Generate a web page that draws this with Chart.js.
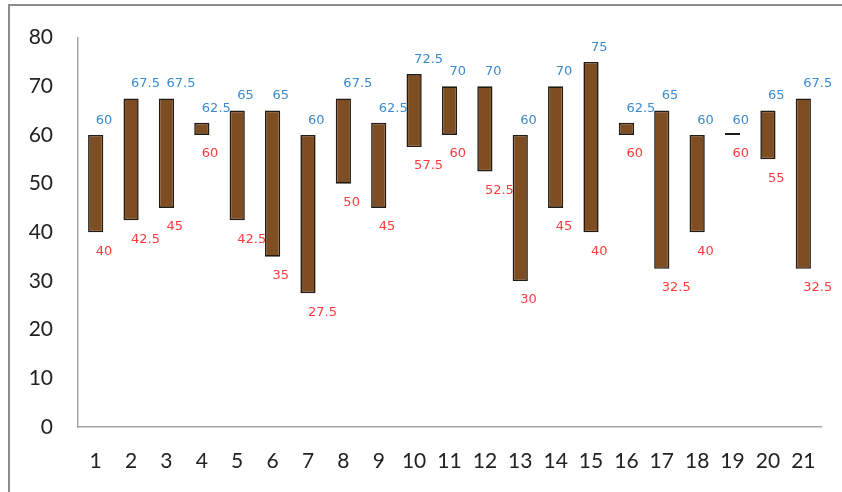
<!DOCTYPE html>
<html>
<head>
<meta charset="utf-8">
<script src="https://cdn.jsdelivr.net/npm/chart.js@4.4.1/dist/chart.umd.min.js"></script>
<style>
  html, body { margin: 0; padding: 0; background: #ffffff; }
  #wrap { width: 842px; height: 492px; position: relative; }
</style>
</head>
<body>
<div id="wrap"><canvas id="c" width="842" height="492"></canvas></div>
<script>
// Categories and the low / high end of each floating bar
const categories = ['1','2','3','4','5','6','7','8','9','10','11','12','13','14','15','16','17','18','19','20','21'];
const lows  = [40, 42.5, 45, 60, 42.5, 35, 27.5, 50, 45, 57.5, 60, 52.5, 30, 45, 40, 60, 32.5, 40, 60, 55, 32.5];
const highs = [60, 67.5, 67.5, 62.5, 65, 65, 60, 67.5, 62.5, 72.5, 70, 70, 60, 70, 75, 62.5, 65, 60, 60, 65, 67.5];
const yTicks = [0, 10, 20, 30, 40, 50, 60, 70, 80];

const ranges = categories.map((_, i) => [lows[i], highs[i]]);

// Thin frame along the top and left edges of the canvas
const framePlugin = {
  id: 'frame',
  beforeDraw(chart) {
    const ctx = chart.ctx;
    ctx.save();
    ctx.strokeStyle = '#8c8c8c';
    ctx.lineWidth = 2;
    ctx.beginPath();
    ctx.moveTo(9, 492);
    ctx.lineTo(9, 5);
    ctx.lineTo(842, 5);
    ctx.stroke();
    ctx.restore();
  }
};

// High value above each bar (blue), low value below it (red)
const valueLabels = {
  id: 'valueLabels',
  afterDatasetsDraw(chart) {
    const ctx = chart.ctx;
    const meta = chart.getDatasetMeta(0);
    const y = chart.scales.y;
    ctx.save();
    ctx.font = '13px "DejaVu Sans", Verdana, sans-serif';
    ctx.textAlign = 'left';
    ctx.textBaseline = 'middle';
    meta.data.forEach((bar, i) => {
      const x = bar.x;
      ctx.fillStyle = '#3a8bd0';
      ctx.fillText(String(highs[i]), x, y.getPixelForValue(highs[i]) - 14.5);
      ctx.fillStyle = '#ff3b3b';
      ctx.fillText(String(lows[i]), x, y.getPixelForValue(lows[i]) + 19);
    });
    ctx.restore();
  }
};

new Chart(document.getElementById('c'), {
  type: 'bar',
  data: {
    labels: categories,
    datasets: [{
      data: ranges,
      backgroundColor: '#7f4d22',
      borderColor: '#231a12',
      borderWidth: 1.6,
      borderSkipped: false,
      minBarLength: 2,
      barPercentage: 0.43,
      categoryPercentage: 1
    }]
  },
  options: {
    responsive: false,
    animation: false,
    layout: { padding: { top: 35, right: 21, bottom: 0, left: 0 } },
    plugins: {
      legend: { display: false },
      tooltip: { enabled: false }
    },
    scales: {
      x: {
        offset: true,
        grid: { display: false, drawTicks: false },
        border: { display: true, color: '#a6a6a6', width: 1.5 },
        ticks: {
          color: '#222222',
          font: { family: 'Lato, "Open Sans", sans-serif', size: 21 },
          padding: 22,
          maxRotation: 0,
          autoSkip: false
        },
        afterFit(scale) { scale.height = 65; }
      },
      y: {
        min: 0,
        max: 80,
        grid: { display: false, drawTicks: false },
        border: { display: true, color: '#a6a6a6', width: 1.5 },
        afterBuildTicks(scale) { scale.ticks = yTicks.map(v => ({ value: v })); },
        ticks: {
          color: '#222222',
          font: { family: 'Lato, "Open Sans", sans-serif', size: 21 },
          padding: 25
        },
        afterFit(scale) { scale.width = 78; }
      }
    }
  },
  plugins: [framePlugin, valueLabels]
});
</script>
</body>
</html>
